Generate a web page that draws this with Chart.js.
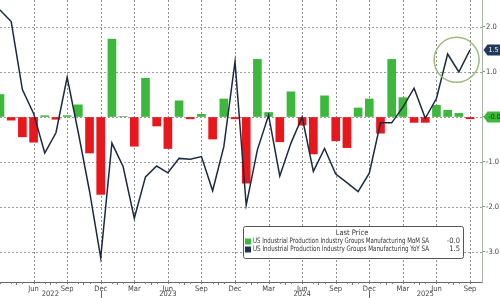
<!DOCTYPE html>
<html><head><meta charset="utf-8">
<script src="https://cdn.jsdelivr.net/npm/chart.js@4"></script>
<style>html,body{margin:0;padding:0;background:#fff;}#wrap{width:500px;height:298px;}</style>
</head><body><div id="wrap"><canvas id="c" width="500" height="298"></canvas></div>
<script>
const months = ['Mar 2022','Apr 2022','May 2022','Jun 2022','Jul 2022','Aug 2022','Sep 2022','Oct 2022','Nov 2022','Dec 2022',
 'Jan 2023','Feb 2023','Mar 2023','Apr 2023','May 2023','Jun 2023','Jul 2023','Aug 2023','Sep 2023','Oct 2023','Nov 2023','Dec 2023',
 'Jan 2024','Feb 2024','Mar 2024','Apr 2024','May 2024','Jun 2024','Jul 2024','Aug 2024','Sep 2024','Oct 2024','Nov 2024','Dec 2024',
 'Jan 2025','Feb 2025','Mar 2025','Apr 2025','May 2025','Jun 2025','Jul 2025','Aug 2025','Sep 2025'];
const momValues = [0.5,-0.07,-0.44,-0.56,0.03,-0.05,0.03,0.27,-0.8,-1.72,
 1.73,0.01,-0.65,0.86,-0.2,-0.7,0.36,-0.04,0.06,-0.49,0.4,-0.04,
 -1.47,1.28,0.1,-0.55,0.56,-0.18,-0.82,0.47,-0.53,-0.68,0.2,0.4,
 -0.36,1.28,0.43,-0.12,-0.12,0.26,0.15,0.08,-0.04];
const yoyValues = [2.38,2.12,0.61,0.08,-0.8,-0.35,0.88,-0.35,-1.65,-3.13,
 -0.58,-1.1,-2.25,-1.33,-1.09,-1.24,-0.92,-0.94,-0.88,-1.64,-0.66,1.23,
 -1.96,-0.73,0.04,-1.31,-0.58,0.0,-1.21,-0.7,-1.27,-1.46,-1.66,-1.25,
 -0.13,-0.13,0.22,0.64,-0.03,0.41,1.4,1.0,1.49];
const xTickIdx = [3,6,9,12,15,18,21,24,27,30,33,36,39,42];
const yTickVals = [-3,-2,-1,0,1,2];
const yearLabels = ['2022','2023','2024','2025'];
const yearLabelPos = [4.5,15,27,38];
const yearSeparators = [9,33];
const legendTitle = 'Last Price';
const legendNames = ['US Industrial Production Industry Groups Manufacturing MoM SA','US Industrial Production Industry Groups Manufacturing YoY SA'];
const legendValues = ['-0.0','1.5'];

const GREEN='#3db83d', RED='#e8171c', NAVY='#1c2a40';
const FONT='"DejaVu Sans Condensed","DejaVu Sans",sans-serif';

function fitText(ctx, txt, x, y, w){
  const m = ctx.measureText(txt).width;
  ctx.save(); ctx.translate(x,y); if (m>w) ctx.scale(w/m,1); ctx.fillText(txt,0,0); ctx.restore();
}

const grid = {
  id:'dotgrid',
  beforeDatasetsDraw(chart){
    const ctx=chart.ctx, xs=chart.scales.x, ys=chart.scales.y, ca=chart.chartArea;
    ctx.save(); ctx.lineWidth=1; ctx.setLineDash([2,2]);
    ctx.strokeStyle='#8c8c8c';
    xTickIdx.forEach(v=>{const px=Math.round(xs.getPixelForValue(v))+0.5;ctx.beginPath();ctx.moveTo(px,ca.top);ctx.lineTo(px,ca.bottom);ctx.stroke();});
    ctx.strokeStyle='#9c9c9c';
    yTickVals.forEach(v=>{const py=Math.round(ys.getPixelForValue(v))+0.5;ctx.beginPath();ctx.moveTo(ca.left,py);ctx.lineTo(ca.right,py);ctx.stroke();});
    ctx.restore();
  }
};

const extras = {
  id:'extras',
  afterDraw(chart){
    const ctx=chart.ctx, xs=chart.scales.x, ys=chart.scales.y, ca=chart.chartArea;
    ctx.save();
    ctx.strokeStyle='#777'; ctx.lineWidth=1;
    for(let i=0;i<months.length;i++){const px=Math.round(xs.getPixelForValue(i))+0.5;ctx.beginPath();ctx.moveTo(px,ca.bottom);ctx.lineTo(px,ca.bottom+2);ctx.stroke();}
    ctx.strokeStyle='#666';
    yearSeparators.forEach(v=>{const px=Math.round(xs.getPixelForValue(v))+0.5;ctx.beginPath();ctx.moveTo(px,ca.bottom+9);ctx.lineTo(px,298);ctx.stroke();});
    ctx.fillStyle='#444'; ctx.font='7.5px '+FONT; ctx.textAlign='center'; ctx.textBaseline='middle';
    yearLabels.forEach((t,i)=>ctx.fillText(t,xs.getPixelForValue(yearLabelPos[i]),294.5));
    ctx.strokeStyle='#9db97f'; ctx.lineWidth=1.5;
    ctx.beginPath(); ctx.arc(xs.getPixelForValue(40.8), ys.getPixelForValue(1.27), 22.5, 0, Math.PI*2); ctx.stroke();
    function badge(val, txt, fill, tcol){
      const py=ys.getPixelForValue(val); const x0=ca.right+1.5;
      ctx.fillStyle=fill; ctx.beginPath();
      ctx.moveTo(x0,py); ctx.lineTo(x0+4,py-5.5); ctx.lineTo(500,py-5.5); ctx.lineTo(500,py+5.5); ctx.lineTo(x0+4,py+5.5); ctx.closePath(); ctx.fill();
      ctx.fillStyle=tcol; ctx.font='7px '+FONT; ctx.textAlign='left'; ctx.textBaseline='middle';
      ctx.fillText(txt,x0+5,py+0.5);
    }
    badge(0,'-0.0',GREEN,'#0c330c');
    badge(yoyValues[yoyValues.length-1],'1.5','#22395a','#fff');
    const bx=243.5,by=226.5,bw=220,bh=32;
    ctx.fillStyle='#fff'; ctx.strokeStyle='#555'; ctx.lineWidth=1;
    ctx.beginPath(); ctx.roundRect(bx,by,bw,bh,2); ctx.fill(); ctx.stroke();
    ctx.fillStyle='#333'; ctx.font='7.5px '+FONT; ctx.textAlign='center'; ctx.textBaseline='middle';
    ctx.fillText(legendTitle, 352, 233.5);
    const cols=[GREEN,'#1f3454'];
    ctx.textAlign='left';
    legendNames.forEach((n,i)=>{
      const yy=241.5+i*8;
      ctx.fillStyle=cols[i]; ctx.fillRect(245,yy-3,6,6);
      ctx.fillStyle='#333'; ctx.font='7.5px '+FONT;
      fitText(ctx,n,253,yy,176);
      ctx.textAlign='right'; ctx.fillText(legendValues[i],460,yy); ctx.textAlign='left';
    });
    ctx.restore();
  }
};

new Chart(document.getElementById('c'),{
  data:{
    datasets:[
      {type:'line', data:yoyValues.map((v,i)=>({x:i,y:v})), borderColor:NAVY, borderWidth:1.5, pointRadius:0, tension:0, order:0},
      {type:'bar', data:momValues.map((v,i)=>({x:i,y:v})), backgroundColor:momValues.map(v=>v>=0?GREEN:RED), barThickness:8, order:1}
    ]
  },
  options:{
    responsive:false, animation:false, devicePixelRatio:1,
    layout:{padding:0},
    plugins:{legend:{display:false},tooltip:{enabled:false}},
    scales:{
      x:{type:'linear', min:0, max:43.07, offset:false,
        afterBuildTicks(s){s.ticks=xTickIdx.map(v=>({value:v}));},
        afterFit(s){s.height=16; s.paddingLeft=0; s.paddingRight=0;},
        ticks:{autoSkip:false, maxRotation:0, padding:0, font:{size:7.5,family:FONT}, color:'#444',
          callback:(v)=>months[v]?months[v].split(' ')[0]:''},
        grid:{drawOnChartArea:false, drawTicks:true, tickLength:3, tickColor:'#777'},
        border:{display:true, color:'#666'}
      },
      y:{type:'linear', position:'right', min:-3.667, max:2.6,
        afterBuildTicks(s){s.ticks=yTickVals.map(v=>({value:v}));},
        afterFit(s){s.width=18; s.paddingTop=0; s.paddingBottom=0;},
        ticks:{padding:1, font:{size:7.5,family:FONT}, color:'#444', callback:(v)=>v===0?'':v.toFixed(1)},
        grid:{drawOnChartArea:false, drawTicks:true, tickLength:3, tickColor:'#888'},
        border:{display:true, color:'#a9b4a9'}
      }
    }
  },
  plugins:[grid, extras]
});
</script></body></html>
